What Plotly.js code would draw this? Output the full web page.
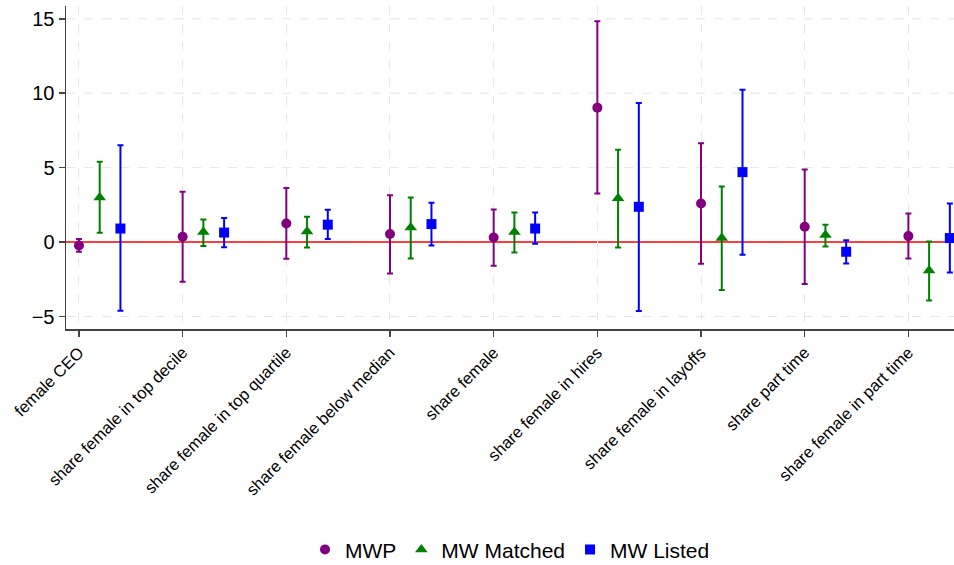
<!DOCTYPE html>
<html>
<head>
<meta charset="utf-8">
<script src="https://cdn.plot.ly/plotly-3.0.1.min.js"></script>
<style>html,body{margin:0;padding:0;background:#fff;}#chart{width:954px;height:565px;}</style>
</head>
<body>
<div id="chart"></div>
<script>
const categories = ["female CEO","share female in top decile","share female in top quartile","share female below median","share female","share female in hires","share female in layoffs","share part time","share female in part time"];
const seriesNames = ["MWP","MW Matched","MW Listed"];
const yTicks = [-5, 0, 5, 10, 15];

const mwpEst   = [-0.23, 0.36, 1.25, 0.54, 0.31, 9.03, 2.59, 1.03, 0.40];
const mwpLo    = [-0.65,-2.66,-1.12,-2.11,-1.59, 3.26,-1.46,-2.82,-1.10];
const mwpHi    = [ 0.20, 3.38, 3.64, 3.15, 2.19,14.83, 6.64, 4.87, 1.92];

const matchedEst = [3.00, 0.67, 0.71, 0.98, 0.67, 2.95, 0.27, 0.47,-1.91];
const matchedLo  = [0.62,-0.27,-0.36,-1.10,-0.70,-0.36,-3.22,-0.30,-3.92];
const matchedHi  = [5.39, 1.52, 1.70, 2.99, 1.99, 6.21, 3.73, 1.16, 0.04];

const listedEst = [0.91, 0.64, 1.17, 1.21, 0.91, 2.37, 4.70,-0.65, 0.27];
const listedLo  = [-4.61,-0.34, 0.20,-0.23,-0.11,-4.63,-0.85,-1.44,-2.04];
const listedHi  = [6.51, 1.61, 2.17, 2.64, 1.99, 9.35,10.24, 0.13, 2.59];

const offsets = [0, 0.2, 0.4];
const colors = ["#800080", "#008000", "#0000ff"];
const symbols = ["circle", "triangle-up", "square"];
const sizes = [10, 11, 10];

const est = [mwpEst, matchedEst, listedEst];
const lo = [mwpLo, matchedLo, listedLo];
const hi = [mwpHi, matchedHi, listedHi];

const traces = seriesNames.map((name, s) => ({
  type: "scatter",
  mode: "markers",
  name: name,
  x: categories.map((c, i) => i + offsets[s]),
  y: est[s],
  marker: {color: colors[s], symbol: symbols[s], size: sizes[s]},
  error_y: {
    type: "data",
    symmetric: false,
    array: est[s].map((v, i) => hi[s][i] - v),
    arrayminus: est[s].map((v, i) => v - lo[s][i]),
    color: colors[s],
    thickness: 2,
    width: 3
  },
  hoverinfo: "x+y"
}));

const shapes = yTicks.map(v => ({
  type: "line", xref: "paper", x0: 0, x1: 1, yref: "y", y0: v, y1: v,
  line: {color: "#e6e6e6", width: 1, dash: "dash"}, layer: "below"
}));
shapes.push({
  type: "line", xref: "paper", x0: 0, x1: 1, yref: "y", y0: 0, y1: 0,
  line: {color: "#ff0000", width: 1.5}, layer: "below"
});

const layout = {
  width: 954, height: 565,
  margin: {l: 66, r: 0, t: 6, b: 236},
  paper_bgcolor: "#fff",
  plot_bgcolor: "#fff",
  font: {family: "Liberation Sans, Arial, sans-serif", color: "#000"},
  showlegend: true,
  legend: {
    orientation: "h",
    x: 0.5, xanchor: "center",
    yref: "container", y: 0.027, yanchor: "middle",
    font: {size: 21, color: "#000"},
    itemsizing: "trace",
    traceorder: "normal"
  },
  xaxis: {
    range: [-0.125, 8.44],
    tickmode: "array",
    tickvals: categories.map((c, i) => i),
    ticktext: categories,
    tickangle: -45,
    tickfont: {size: 16.5, color: "#000"},
    ticks: "outside", ticklen: 6, tickcolor: "#444", tickwidth: 1.5,
    showline: true, linecolor: "#444", linewidth: 1.5,
    showgrid: true, gridcolor: "#e6e6e6", griddash: "dash", gridwidth: 1,
    zeroline: false
  },
  yaxis: {
    range: [-5.84, 15.86],
    tickvals: yTicks,
    tickfont: {size: 20, color: "#000"},
    ticks: "outside", ticklen: 6, tickcolor: "#444", tickwidth: 1.5,
    showline: true, linecolor: "#444", linewidth: 1.5,
    showgrid: false,
    zeroline: false
  },
  shapes: shapes
};

Plotly.newPlot("chart", traces, layout, {displayModeBar: false, staticPlot: true});
</script>
</body>
</html>
